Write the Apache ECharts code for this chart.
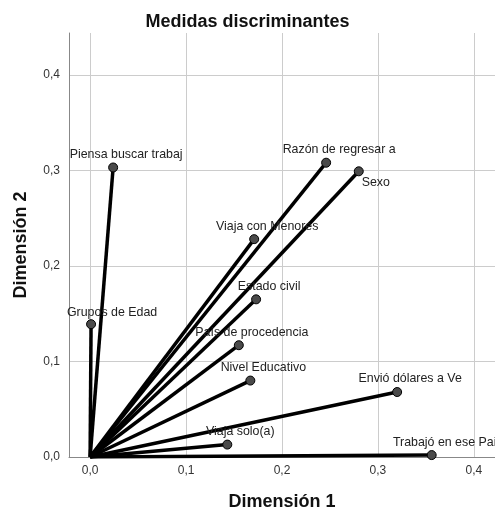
<!DOCTYPE html>
<html>
<head>
<meta charset="utf-8">
<script src="https://cdn.jsdelivr.net/npm/echarts@6/dist/echarts.min.js"></script>
<style>html,body{margin:0;padding:0;background:#fff}#c{width:495px;height:516px}</style>
</head>
<body>
<div id="c"></div>
<script>
var names = ["Piensa buscar trabaj","Razón de regresar a","Sexo","Viaja con Menores","Estado civil","Grupos de Edad","País de procedencia","Nivel Educativo","Envió dólares a Ve","Viaja solo(a)","Trabajó en ese Pai"];
var dim1 = [0.024,0.246,0.280,0.171,0.173,0.001,0.155,0.167,0.320,0.143,0.356];
var dim2 = [0.303,0.308,0.299,0.228,0.165,0.139,0.117,0.080,0.068,0.013,0.002];
var ticks = [0,0.1,0.2,0.3,0.4];

var FONT = "'Liberation Sans', Arial, sans-serif";
function fmt(v){ return v.toFixed(1).replace('.', ','); }

var series = [];
for (var i = 0; i < names.length; i++) {
  var isSexo = names[i] === "Sexo";
  var isGrupos = names[i] === "Grupos de Edad";
  series.push({
    type: 'line',
    name: names[i],
    data: [[0, 0], {value: [dim1[i], dim2[i]], symbol: 'circle', symbolSize: 9,
      label: {show: true, formatter: names[i], position: isSexo ? 'bottom' : 'top',
        offset: isSexo ? [17, -2] : (isGrupos ? [21, 1] : [13, 0]), distance: 2,
        fontFamily: FONT, fontSize: 12.4, color: '#222'}}],
    symbol: 'none',
    showAllSymbol: true,
    lineStyle: {color: '#000', width: 3.5},
    itemStyle: {color: '#4a4a4a', borderColor: '#000', borderWidth: 1},
    label: {show: false},
    emphasis: {disabled: true},
    animation: false,
    z: 2
  });
}

var chart = echarts.init(document.getElementById('c'), null, {renderer: 'canvas'});
chart.setOption({
  animation: false,
  title: {text: 'Medidas discriminantes', left: 'center', top: 8,
    textStyle: {fontFamily: FONT, fontSize: 18, fontWeight: 'bold', color: '#111'}},
  grid: {left: 69, right: 0, top: 33, bottom: 57, containLabel: false},
  xAxis: {
    type: 'value', min: -0.022, max: 0.422,
    name: 'Dimensión 1', nameLocation: 'middle', nameGap: 36,
    nameTextStyle: {fontFamily: FONT, fontSize: 18, fontWeight: 'bold', color: '#111'},
    axisLine: {show: true, onZero: false, lineStyle: {color: '#888', width: 1}},
    axisTick: {show: false, customValues: ticks},
    axisLabel: {customValues: ticks, formatter: fmt, fontFamily: FONT, fontSize: 12, color: '#333', margin: 8},
    splitLine: {show: true, lineStyle: {color: '#ccc', width: 1}}
  },
  yAxis: {
    type: 'value', min: 0, max: 0.44375,
    name: 'Dimensión 2', nameLocation: 'middle', nameGap: 39,
    nameTextStyle: {fontFamily: FONT, fontSize: 18, fontWeight: 'bold', color: '#111'},
    axisLine: {show: true, onZero: false, lineStyle: {color: '#888', width: 1}},
    axisTick: {show: false, customValues: ticks},
    axisLabel: {customValues: ticks, formatter: fmt, fontFamily: FONT, fontSize: 12, color: '#333', margin: 9},
    splitLine: {show: true, lineStyle: {color: '#ccc', width: 1}}
  },
  series: series
});
</script>
</body>
</html>
